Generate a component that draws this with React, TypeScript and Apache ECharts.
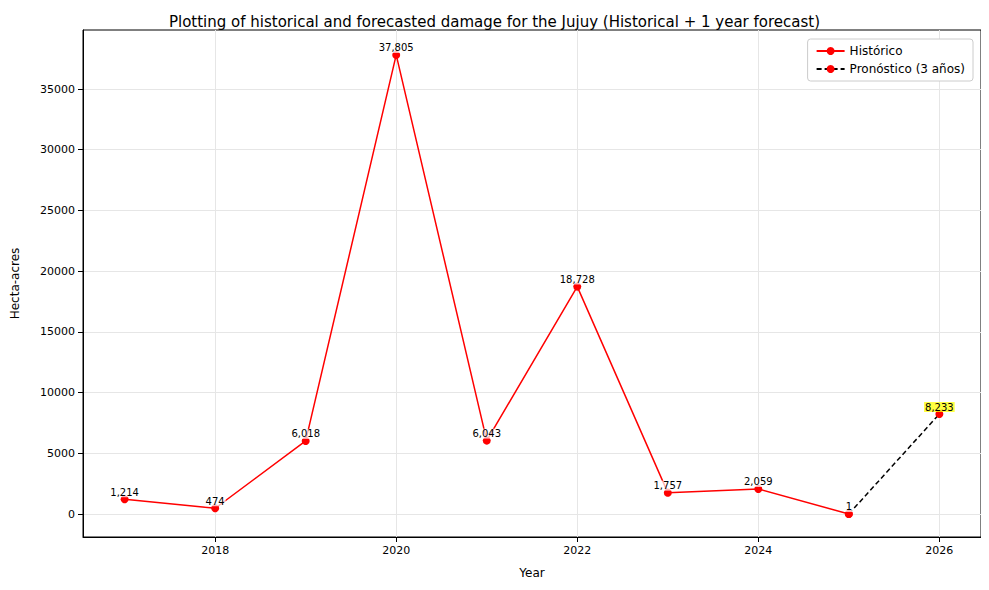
import React, { useEffect, useRef } from "react";
import * as echarts from "echarts";

const years = [2017, 2018, 2019, 2020, 2021, 2022, 2023, 2024, 2025];
const histValues = [1214, 474, 6018, 37805, 6043, 18728, 1757, 2059, 1];
const forecastYears = [2025, 2026];
const forecastValues = [1, 8233];
const xTicks = [2018, 2020, 2022, 2024, 2026];
const yTicks = [0, 5000, 10000, 15000, 20000, 25000, 30000, 35000];

const fmt = (v: number) => v.toLocaleString("en-US");

export default function App() {
  const ref = useRef<HTMLDivElement>(null);
  useEffect(() => {
    const chart = echarts.init(ref.current!, null, { renderer: "svg" });
    const font = "DejaVu Sans";
    chart.setOption({
      animation: false,
      textStyle: { fontFamily: font },
      title: {
        text: "Plotting of historical and forecasted damage for the Jujuy (Historical + 1 year forecast)",
        left: "center", top: 9,
        textStyle: { fontSize: 15, fontWeight: "normal", color: "#000", fontFamily: font },
      },
      grid: { left: 83, right: 8, top: 30, bottom: 53, show: true, borderColor: "#000", borderWidth: 1 },
      legend: {
        right: 16, top: 39, orient: "vertical", itemGap: 6,
        borderColor: "#ccc", borderWidth: 1, borderRadius: 3, padding: [6, 8],
        backgroundColor: "#fff",
        textStyle: { fontSize: 12, color: "#000", fontFamily: font },
        itemWidth: 28, itemHeight: 10,
      },
      xAxis: {
        type: "value", min: 2016.54, max: 2026.46,
        name: "Year", nameLocation: "middle", nameGap: 30,
        nameTextStyle: { fontSize: 12, color: "#000" },
        axisLine: { onZero: false, lineStyle: { color: "#000" } },
        axisTick: { customValues: xTicks, lineStyle: { color: "#000" } },
        axisLabel: { customValues: xTicks, color: "#000", fontSize: 11, formatter: (v: number) => String(v) },
        splitLine: { show: true, lineStyle: { color: "#e6e6e6" } },
      },
      yAxis: {
        type: "value", min: -1894, max: 39859,
        name: "Hecta-acres", nameLocation: "middle", nameGap: 62,
        nameTextStyle: { fontSize: 12, color: "#000" },
        axisLine: { show: true, lineStyle: { color: "#000" } },
        axisTick: { show: true, customValues: yTicks, lineStyle: { color: "#000" } },
        axisLabel: { customValues: yTicks, color: "#000", fontSize: 11, formatter: (v: number) => String(v) },
        splitLine: { show: true, lineStyle: { color: "#e6e6e6" } },
      },
      series: [
        {
          name: "Histórico", type: "line",
          data: years.map((y, i) => [y, histValues[i]]),
          symbol: "circle", symbolSize: 8,
          lineStyle: { color: "#ff0000", width: 1.5 },
          itemStyle: { color: "#ff0000" },
          label: {
            show: true, position: "top", distance: -2, fontSize: 10, color: "#000",
            backgroundColor: "rgba(255,255,255,0.7)", padding: [0, 1],
            formatter: (p: any) => fmt(p.value[1]),
          },
          z: 3,
        },
        {
          name: "Pronóstico (3 años)", type: "line",
          data: forecastYears.map((y, i) => [y, forecastValues[i]]),
          symbol: "circle", symbolSize: 8,
          lineStyle: { color: "#000", width: 1.5, type: [5, 3] },
          itemStyle: { color: "#ff0000" },
          label: {
            show: true, position: "top", distance: -2, fontSize: 10, color: "#000",
            backgroundColor: "rgba(255,255,0,0.75)", padding: [0, 1],
            formatter: (p: any) => (p.dataIndex === 1 ? fmt(p.value[1]) : ""),
          },
          z: 2,
        },
      ],
    });
    return () => chart.dispose();
  }, []);
  return <div ref={ref} style={{ width: 989, height: 590, marginLeft: -8, marginTop: -8 }} />;
}
